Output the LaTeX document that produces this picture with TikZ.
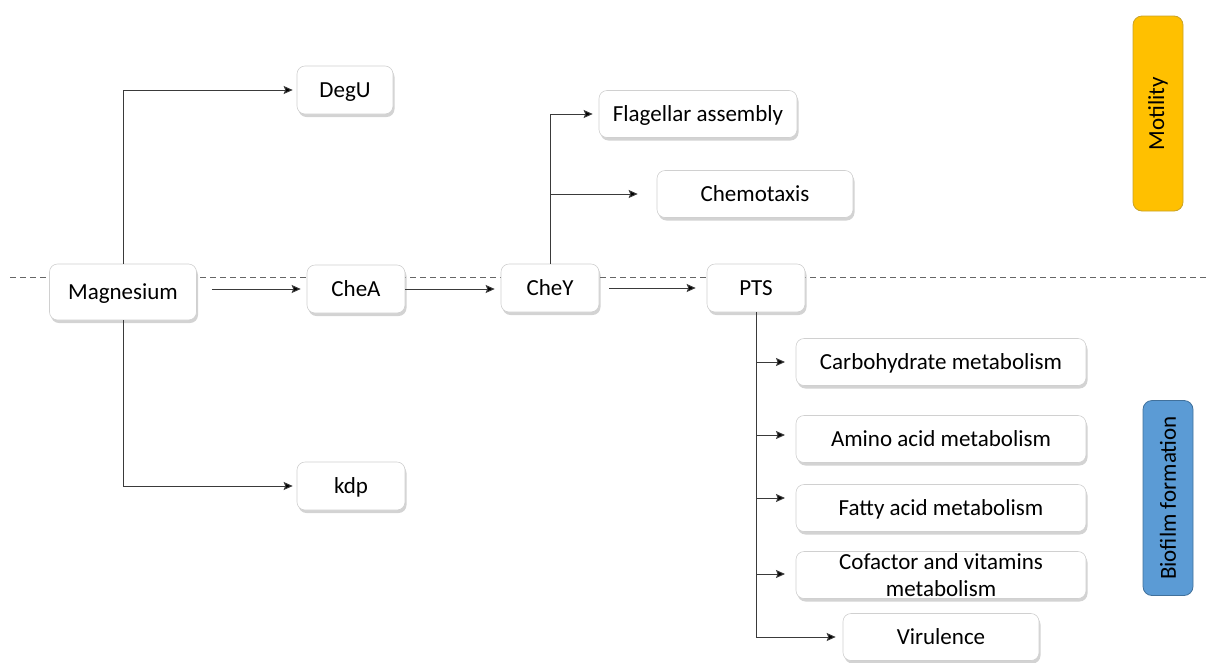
\documentclass[tikz,border=0pt]{standalone}
\usepackage{fontspec}
\setmainfont{Carlito}
\usetikzlibrary{shadows,arrows.meta}
\definecolor{linec}{HTML}{3A3A3A}
\definecolor{boxborder}{HTML}{D0D0D0}
\definecolor{motil}{HTML}{FFC000}
\definecolor{motilb}{HTML}{C9A227}
\definecolor{biof}{HTML}{5B9BD5}
\definecolor{biofb}{HTML}{41719C}
\tikzset{
  box/.style={draw=boxborder, line width=0.6pt, fill=white, rounded corners=8pt,
    minimum height=48pt, inner sep=2pt, font=\fontsize{23}{25}\selectfont,
    text depth=1pt, text height=16pt,
    drop shadow={shadow xshift=1.5pt, shadow yshift=-3pt, opacity=0.35, fill=gray}},
  sidebox/.style={rounded corners=9pt, line width=0.8pt, minimum width=195pt,
    minimum height=50pt, rotate=90, font=\fontsize{23}{25}\selectfont, text=black},
  arr/.style={draw=linec, line width=1pt, -{Stealth[length=9pt,width=8pt,inset=1.5pt,fill=black]}},
  ln/.style={draw=linec, line width=1pt}
}
\begin{document}
\begin{tikzpicture}[x=1pt,y=-1pt]
\useasboundingbox (0,0) rectangle (1208,662);
% dashed separator
\draw[gray!80!black, line width=0.8pt, dash pattern=on 6pt off 4pt] (10,277) -- (1208,277);

% nodes
\node[box, minimum width=147pt, minimum height=56pt] (mg) at (123,292) {Magnesium};
\node[box, minimum width=98pt] (chea) at (356,289) {CheA};
\node[box, minimum width=98pt] (chey) at (550,288) {CheY};
\node[box, minimum width=98pt] (pts) at (756,288) {PTS};
\node[box, minimum width=96pt] (degu) at (345,90) {DegU};
\node[box, minimum width=108pt] (kdp) at (351,486) {kdp};
\node[box, minimum width=198pt, minimum height=47pt] (flag) at (698,114) {Flagellar assembly};
\node[box, minimum width=196pt, minimum height=47pt] (chemo) at (755,194) {Chemotaxis};
\node[box, minimum width=290pt, minimum height=47pt] (carb) at (941,362) {Carbohydrate metabolism};
\node[box, minimum width=290pt, minimum height=47pt] (amino) at (941,439) {Amino acid metabolism};
\node[box, minimum width=290pt, minimum height=47pt] (fatty) at (941,508) {Fatty acid metabolism};
\node[box, minimum width=290pt, minimum height=47pt, align=center, inner sep=0pt,
      text height=, text depth=,
      font=\fontsize{23}{27}\selectfont] (cof) at (941,575) {Cofactor and vitamins\\metabolism};
\node[box, minimum width=196pt, minimum height=47pt] (vir) at (941,637) {Virulence};

\node[sidebox, draw=motilb, fill=motil] (mot) at (1158,113.5) {Motility};
\node[sidebox, draw=biofb, fill=biof] (bio) at (1168,498) {Biofilm formation};

% connectors
\draw[arr, shorten >=4pt] (mg.north) |- (degu.west);
\draw[arr, shorten >=4pt] (mg.south) |- (kdp.west);
\draw[arr, shorten <=15pt, shorten >=6pt] (mg.east |- chea.west) -- (chea.west);
\draw[arr, shorten >=6pt] (chea.east) -- (chea.east -| chey.west);
\draw[arr, shorten <=10pt, shorten >=11pt] (chey.east) -- (chey.east -| pts.west);

\draw[arr, shorten >=6pt] (chey.north) |- (flag.west);
\coordinate (chemotip) at ([xshift=-19pt]chemo.west);
\draw[arr] (chey.north |- chemo.west) -- (chemotip);

\draw[arr, shorten >=7pt] (pts.south) |- (vir.west);
\coordinate (tcarb) at (785,362);
\coordinate (tamino) at (785,435);
\coordinate (tfatty) at (785,498);
\coordinate (tcof) at (785,574);
\draw[arr] (pts.south |- tcarb) -- (tcarb);
\draw[arr] (pts.south |- tamino) -- (tamino);
\draw[arr] (pts.south |- tfatty) -- (tfatty);
\draw[arr] (pts.south |- tcof) -- (tcof);
\end{tikzpicture}
\end{document}
